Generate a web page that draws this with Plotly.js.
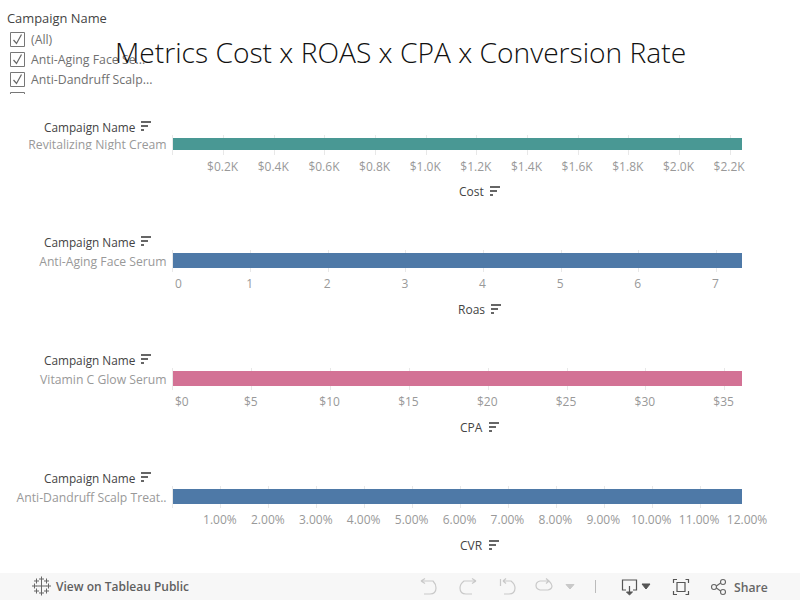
<!DOCTYPE html>
<html><head><meta charset="utf-8">
<script src="https://cdn.plot.ly/plotly-3.0.1.min.js"></script>
<style>html,body{margin:0;padding:0;background:#fff}#c{width:800px;height:600px}</style>
</head><body><div id="c"></div>
<script>
var chartTitle = "Metrics Cost x ROAS x CPA x Conversion Rate";
var filterItems = ["(All)", "Anti-Aging Face Se...", "Anti-Dandruff Scalp..."];
var campaigns = ["Revitalizing Night Cream", "Anti-Aging Face Serum", "Vitamin C Glow Serum", "Anti-Dandruff Scalp Treat.."];
var metricNames = ["Cost", "Roas", "CPA", "CVR"];
var metricValues = [2247, 7.33, 36.1, 11.87];
var barColors = ["#499894", "#4E79A7", "#D37295", "#4E79A7"];
var costTicks = [200, 400, 600, 800, 1000, 1200, 1400, 1600, 1800, 2000, 2200];
var costLabels = ["$0.2K", "$0.4K", "$0.6K", "$0.8K", "$1.0K", "$1.2K", "$1.4K", "$1.6K", "$1.8K", "$2.0K", "$2.2K"];
var roasTicks = [1, 2, 3, 4, 5, 6, 7];
var roasLabels = ["1", "2", "3", "4", "5", "6", "7"];
var cpaTicks = [5, 10, 15, 20, 25, 30, 35];
var cpaLabels = ["$5", "$10", "$15", "$20", "$25", "$30", "$35"];
var cvrTicks = [1, 2, 3, 4, 5, 6, 7, 8, 9, 10, 11, 12];
var cvrLabels = ["1.00%", "2.00%", "3.00%", "4.00%", "5.00%", "6.00%", "7.00%", "8.00%", "9.00%", "10.00%", "11.00%", "12.00%"];
var allTicks = [costTicks, roasTicks, cpaTicks, cvrTicks];
var allLabels = [costLabels, roasLabels, cpaLabels, cvrLabels];
var axisMax = [2247, 7.33, 36.1, 12.02];

// layout in page pixels
var W = 800, H = 600, FONT = '"Open Sans", sans-serif';
var px = function (x) { return x / W; }, py = function (y) { return 1 - y / H; };
var panels = [
  { top: 135, bottom: 155, barTop: 138, barBot: 150, right: 742, titleY: 126, axisY: 191, axisX: 471, sortX: 490 },
  { top: 250, bottom: 272, barTop: 253, barBot: 268, right: 742, titleY: 241, axisY: 309, axisX: 471, sortX: 491 },
  { top: 368, bottom: 390, barTop: 371, barBot: 386, right: 742, titleY: 359, axisY: 427, axisX: 471, sortX: 489 },
  { top: 486, bottom: 508, barTop: 489, barBot: 504, right: 749, titleY: 477, axisY: 545, axisX: 471, sortX: 489 }
];
var LEFT = 173;

var traces = [], annotations = [], shapes = [];
var layout = {
  width: W, height: H, autosize: false, margin: { l: 0, r: 0, t: 0, b: 0 },
  paper_bgcolor: "#fff", plot_bgcolor: "#fff", showlegend: false, font: { family: FONT },
  annotations: annotations, shapes: shapes, bargap: 0
};

function text(t, x, y, size, color, anchor, weight) {
  annotations.push({ text: t, xref: "paper", yref: "paper", x: px(x), y: py(y), showarrow: false,
    xanchor: anchor || "left", yanchor: "middle", borderpad: 0,
    font: { family: FONT, size: size, color: color, weight: weight || 400 } });
}
function path(d, color, w, fill) {
  // d is written in page pixels
  var s = d.replace(/(-?[\d.]+),(-?[\d.]+)/g, function (m, a, b) {
    return px(+a).toFixed(5) + "," + py(+b).toFixed(5);
  });
  shapes.push({ type: "path", xref: "paper", yref: "paper", path: s, layer: "above",
    line: { color: color, width: w === undefined ? 1 : w }, fillcolor: fill || "rgba(0,0,0,0)" });
}
function rect(x0, y0, x1, y1, fill, stroke, w) {
  shapes.push({ type: "rect", xref: "paper", yref: "paper", x0: px(x0), x1: px(x1), y0: py(y0), y1: py(y1),
    layer: "above", fillcolor: fill, line: { color: stroke || fill, width: stroke ? (w || 1) : 0 } });
}
function sortIcon(x, y) {
  rect(x, y - 5, x + 10, y - 3, "#666");
  rect(x, y - 1, x + 7, y + 1, "#666");
  rect(x, y + 3, x + 3, y + 5, "#666");
}

panels.forEach(function (p, i) {
  var n = i === 0 ? "" : String(i + 1);
  var domH = p.bottom - p.top;
  var center = (p.barTop + p.barBot) / 2;
  var hi = (center - p.top) / domH;
  traces.push({
    type: "bar", orientation: "h", x: [metricValues[i]], y: [campaigns[i]],
    xaxis: "x" + n, yaxis: "y" + n, width: [(p.barBot - p.barTop) / domH],
    marker: { color: barColors[i], line: { width: 0 } }, hoverinfo: "x+y"
  });
  layout["xaxis" + n] = {
    domain: [px(LEFT), px(p.right)], range: [0, axisMax[i]], anchor: "y" + n,
    tickmode: "array", tickvals: allTicks[i], ticktext: allLabels[i], ticks: "", ticklabelshift: -1,
    showgrid: true, gridcolor: "#e8e8e8", gridwidth: 1, zeroline: false, showline: false,
    tickfont: { family: FONT, size: 12, color: "#999" }, automargin: false, ticklabelstandoff: 3
  };
  layout["yaxis" + n] = {
    domain: [py(p.bottom), py(p.top)], range: [hi - 1, hi], anchor: "x" + n, type: "category",
    showgrid: false, zeroline: false, showline: true, linecolor: "#e8e8e8", linewidth: 1, ticks: "",
    tickfont: { family: FONT, size: 12.2, color: "#999" }, automargin: false, ticklabelstandoff: 3, ticklabelshift: 1
  };
  text("Campaign Name", 137, p.titleY + 1, 11.8, "#444", "right", 500);
  sortIcon(141, p.titleY);
  text(metricNames[i], p.axisX, p.axisY, 12, "#444", "center", 500);
  sortIcon(p.sortX, p.axisY);
});

// zero labels sit just inside the axis start
var zeroLabels = [null, "0", "$0", null];
zeroLabels.forEach(function (t, i) { if (t) text(t, 174, panels[i].bottom + 11, 12, "#999", "left"); });

// clipped bottom of the first category label
rect(0, 150, 172, 156, "#fff");

// filter card
text("Campaign Name", 5.5, 18, 12.9, "#444", "left");
filterItems.forEach(function (t, i) {
  var y = 39.5 + i * 20;
  rect(10.5, y - 7, 24.5, y + 7, "rgba(0,0,0,0)", "#777", 1);
  path("M13.5," + (y + 0.5) + " L16.5," + (y + 4) + " L21.5," + (y - 5), "#666", 1.2);
  text(t, 29.5, y + 0.5, 12.3, "#707070", "left");
});
path("M10.5,94 L10.5,92.5 L24.5,92.5 L24.5,94", "#777", 1);

// title
annotations.push({ text: chartTitle, xref: "paper", yref: "paper", x: 0.5, y: py(52), showarrow: false,
  xanchor: "center", yanchor: "middle", font: { family: FONT, size: 28.2, color: "#111", weight: 300 } });

// toolbar
shapes.push({ type: "rect", xref: "paper", yref: "paper", x0: 0, x1: 1, y0: 0, y1: py(573), layer: "above",
  fillcolor: "#f7f7f7", line: { width: 0 } });
text("View on Tableau Public", 54.5, 586.5, 12, "#5f5f5f", "left", 600);
text("Share", 732.5, 587, 12.2, "#666", "left", 600);
[[41.5, 586, 5], [34.5, 586, 2.5], [48.5, 586, 2.5], [41.5, 579, 2.5], [41.5, 593, 2.5], [36.5, 581, 2.5], [46.5, 581, 2.5], [36.5, 591, 2.5], [46.5, 591, 2.5]].forEach(function (q) {
  path("M" + (q[0] - q[2]) + "," + q[1] + " L" + (q[0] + q[2]) + "," + q[1] + " M" + q[0] + "," + (q[1] - q[2]) + " L" + q[0] + "," + (q[1] + q[2]), "#666", 1);
});
var g = "#c9c9c9";
path("M421,581 L433,581 Q436,584 436,588 Q436,594 430,594 L424,594 M421,581 L425,578.5 M421,581 L425,583.5", g, 1.2);
path("M476,581 L464,581 Q460,584 460,588 Q460,594 466,594 L472,594 M476,581 L472,578.5 M476,581 L472,583.5", g, 1.2);
path("M500.5,579 L500.5,586 M503,581 L511,581 Q515,584 515,588 Q515,594 509,594 L504,594 M503,581 L506,578.5 M503,581 L506,583.5", g, 1.2);
path("M540,581 L549,581 Q552,584 552,586 Q552,589 548,590 L540,590 Q536,589 536,585.5 Q536,582 540,581 M549,581 L546,578.5 M549,581 L546,583.5", g, 1.2);
path("M566,584.5 L574,584.5 L570,589 Z", g, 1, g);
path("M595.5,580 L595.5,593", "#bbb", 1);
path("M626,590 L622.5,590 L622.5,580 L636.5,580 L636.5,590 L633,590 M629.5,586 L629.5,593", "#555", 1.2);
path("M626.5,592 L632.5,592 L629.5,595 Z", "#555", 1, "#555");
path("M642,584 L650,584 L646,589 Z", "#555", 1, "#555");
path("M673.5,583 L673.5,579.5 L677,579.5 M685.5,579.5 L688.5,579.5 L688.5,583 M688.5,591 L688.5,594.5 L685.5,594.5 M677,594.5 L673.5,594.5 L673.5,591", "#555", 1.2);
rect(677, 582.5, 685, 591.5, "rgba(0,0,0,0)", "#555", 1.2);
path("M715,587 L722,582 M715,587 L722,592", "#666", 1.1);
[[714, 587], [723, 582], [723, 592]].forEach(function (q) {
  shapes.push({ type: "circle", xref: "paper", yref: "paper", layer: "above",
    x0: px(q[0] - 2.5), x1: px(q[0] + 2.5), y0: py(q[1] + 2.5), y1: py(q[1] - 2.5),
    fillcolor: "#f7f7f7", line: { color: "#666", width: 1.1 } });
});

Plotly.newPlot("c", traces, layout, { displayModeBar: false, responsive: false });
</script></body></html>
